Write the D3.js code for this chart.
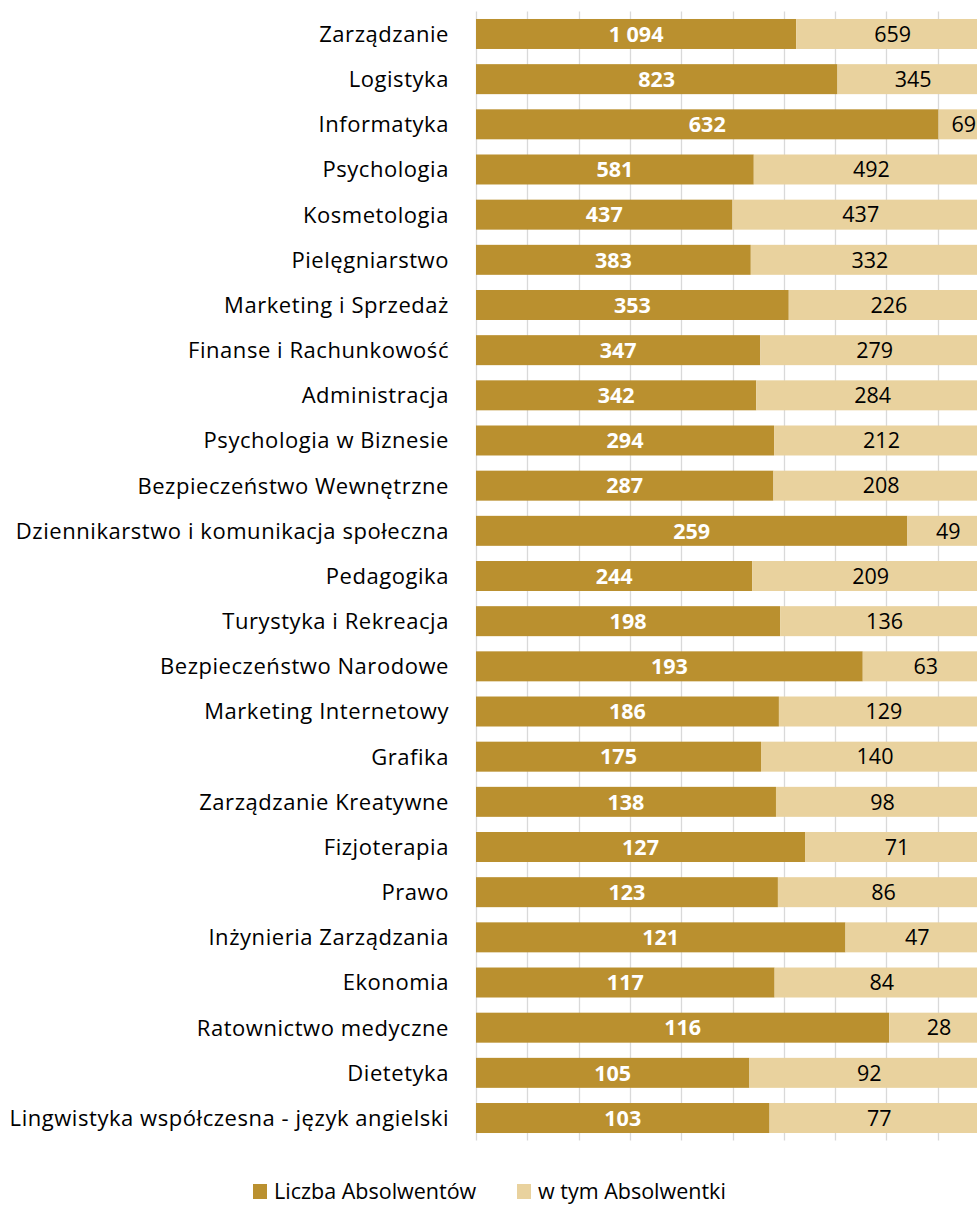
<!DOCTYPE html>
<html>
<head>
<meta charset="utf-8">
<script src="https://cdn.jsdelivr.net/npm/d3@7"></script>
<style>
  html, body { margin: 0; padding: 0; background: #fff; }
  svg { display: block; font-family: "Open Sans", sans-serif; }
</style>
</head>
<body>
<div id="chart"></div>
<script>
const categories = [
  "Zarządzanie", "Logistyka", "Informatyka", "Psychologia", "Kosmetologia",
  "Pielęgniarstwo", "Marketing i Sprzedaż", "Finanse i Rachunkowość", "Administracja",
  "Psychologia w Biznesie", "Bezpieczeństwo Wewnętrzne", "Dziennikarstwo i komunikacja społeczna",
  "Pedagogika", "Turystyka i Rekreacja", "Bezpieczeństwo Narodowe", "Marketing Internetowy",
  "Grafika", "Zarządzanie Kreatywne", "Fizjoterapia", "Prawo", "Inżynieria Zarządzania",
  "Ekonomia", "Ratownictwo medyczne", "Dietetyka", "Lingwistyka współczesna - język angielski"
];
const absolwenci = [1094, 823, 632, 581, 437, 383, 353, 347, 342, 294, 287, 259, 244, 198, 193, 186, 175, 138, 127, 123, 121, 117, 116, 105, 103];
const absolwentki = [659, 345, 69, 492, 437, 332, 226, 279, 284, 212, 208, 49, 209, 136, 63, 129, 140, 98, 71, 86, 47, 84, 28, 92, 77];
const seriesNames = ["Liczba Absolwentów", "w tym Absolwentki"];
const ticks = [0, 0.1, 0.2, 0.3, 0.4, 0.5, 0.6, 0.7, 0.8, 0.9, 1];

const width = 977, height = 1205;
const colors = ["#BA902F", "#E9D29E"];
const fmt = d3.formatLocale({ decimal: ",", thousands: " ", grouping: [3], currency: ["", ""] }).format(",d");

const rows = categories.map((c, i) => ({ cat: c, a: absolwenci[i], b: absolwentki[i] }));
const stack = d3.stack().keys(["a", "b"]).offset(d3.stackOffsetExpand);
const series = stack(rows);

const x = d3.scaleLinear().domain([0, 1]).range([476, 989]);
const y = d3.scaleBand().domain(categories).range([11.4, 1140.6]).paddingInner(0.336).paddingOuter(0.168);

const svg = d3.select("#chart").append("svg")
  .attr("width", width)
  .attr("height", height)
  .style("overflow", "hidden");

// gridlines
svg.append("g")
  .selectAll("line")
  .data(ticks)
  .join("line")
  .attr("x1", d => Math.round(x(d)) + 0.5)
  .attr("x2", d => Math.round(x(d)) + 0.5)
  .attr("y1", 11.4)
  .attr("y2", 1140.6)
  .attr("stroke", "#D9D9D9")
  .attr("stroke-width", 1.3);

// bars
const layer = svg.append("g")
  .selectAll("g")
  .data(series)
  .join("g")
  .attr("fill", (d, i) => colors[i]);

layer.selectAll("rect")
  .data(d => d)
  .join("rect")
  .attr("x", d => x(d[0]))
  .attr("width", d => x(d[1]) - x(d[0]))
  .attr("y", d => y(d.data.cat))
  .attr("height", y.bandwidth());

// value labels
layer.selectAll("text")
  .data((d, i) => d.map(v => ({ v, key: d.key, i })))
  .join("text")
  .attr("x", d => (x(d.v[0]) + x(d.v[1])) / 2)
  .attr("y", d => y(d.v.data.cat) + y.bandwidth() / 2)
  .attr("dy", "0.36em")
  .attr("text-anchor", "middle")
  .attr("fill", d => d.i === 0 ? "#fff" : "#000")
  .attr("font-weight", d => d.i === 0 ? "bold" : "normal")
  .attr("font-size", 21.5)
  .text(d => fmt(d.v.data[d.key]));

// category labels
svg.append("g")
  .selectAll("text")
  .data(categories)
  .join("text")
  .attr("x", 449)
  .attr("y", d => y(d) + y.bandwidth() / 2)
  .attr("dy", "0.36em")
  .attr("text-anchor", "end")
  .attr("font-size", 22)
  .attr("letter-spacing", 0.55)
  .attr("fill", "#000")
  .text(d => d);

// legend
const legend = svg.append("g")
  .selectAll("g")
  .data(seriesNames)
  .join("g")
  .attr("transform", (d, i) => `translate(${i === 0 ? 253 : 517},1184)`);
legend.append("rect")
  .attr("width", 14)
  .attr("height", 15)
  .attr("fill", (d, i) => colors[i]);
legend.append("text")
  .attr("x", 21)
  .attr("y", 15)
  .attr("font-size", 21.5)
  .attr("fill", "#000")
  .text(d => d);
</script>
</body>
</html>
